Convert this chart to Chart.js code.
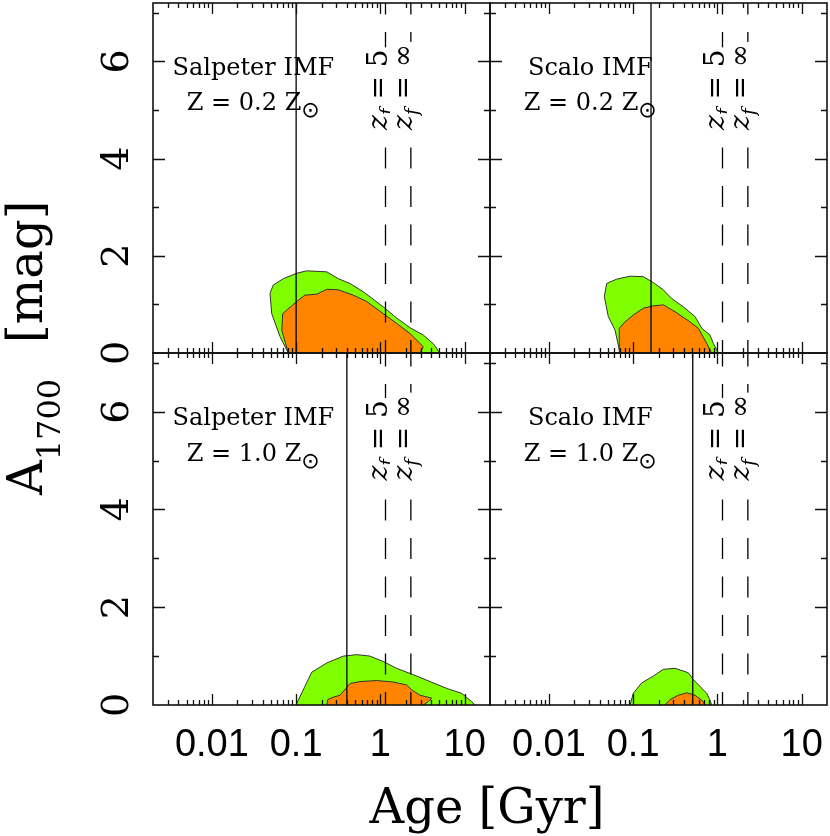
<!DOCTYPE html>
<html>
<head>
<meta charset="utf-8">
<script src="https://cdn.jsdelivr.net/npm/chart.js@4.4.1/dist/chart.umd.min.js"></script>
<style>
  body { margin: 0; background: #fff; }
  #wrap { position: relative; width: 830px; height: 836px; }
  #wrap canvas { position: absolute; left: 0; top: 0; }
</style>
</head>
<body>
<div id="wrap">
  <canvas id="p1" width="830" height="836"></canvas>
  <canvas id="p2" width="830" height="836"></canvas>
  <canvas id="p3" width="830" height="836"></canvas>
  <canvas id="p4" width="830" height="836"></canvas>
</div>
<script>
// panel texts
const imfNames = ['Salpeter IMF', 'Scalo IMF', 'Salpeter IMF', 'Scalo IMF'];
const metallicity = ['0.2', '0.2', '1.0', '1.0'];

// age of the universe marker (solid) and formation redshift markers (dashed), Gyr
const ageNow = [0.10, 0.163, 0.40, 0.51];
const zfAges = [1.15, 2.3];
const zfLabels = ['5', '\u221e'];

// tick labels
const xTickLabels = [0.01, 0.1, 1, 10];
const yTickLabels = [0, 2, 4, 6];

// contours: age [Gyr] and A_1700 [mag]
const green1Age = [0.0807, 0.0643, 0.0513, 0.049, 0.0536, 0.0705, 0.1016, 0.133, 0.231, 0.316, 0.435, 0.627, 1.08, 1.56, 2.25, 3.23, 4.25, 5.1];
const green1A   = [0, 0.34, 0.81, 1.23, 1.40, 1.53, 1.64, 1.69, 1.67, 1.53, 1.43, 1.26, 0.95, 0.72, 0.52, 0.37, 0.19, 0];
const orange1Age = [0.0807, 0.0675, 0.0692, 0.1016, 0.127, 0.175, 0.231, 0.316, 0.476, 0.687, 1.08, 1.56, 2.25, 3.23, 2.95];
const orange1A   = [0, 0.47, 0.81, 1.06, 1.19, 1.21, 1.31, 1.30, 1.19, 1.06, 0.81, 0.61, 0.40, 0.13, 0];

const green2Age = [0.0698, 0.061, 0.0507, 0.0455, 0.0485, 0.0638, 0.0918, 0.132, 0.173, 0.228, 0.287, 0.394, 0.542, 0.652, 0.817, 0.893, 1.03];
const green2A   = [0, 0.47, 0.75, 1.16, 1.43, 1.52, 1.58, 1.57, 1.45, 1.30, 1.12, 0.95, 0.75, 0.51, 0.37, 0.20, 0];
const orange2Age = [0.0698, 0.0685, 0.080, 0.1005, 0.132, 0.173, 0.228, 0.314, 0.473, 0.593, 0.746, 0.855];
const orange2A   = [0, 0.51, 0.64, 0.78, 0.92, 0.97, 0.99, 0.85, 0.64, 0.51, 0.20, 0];

const green3Age = [0.0995, 0.127, 0.153, 0.231, 0.363, 0.524, 0.753, 1.08, 1.56, 2.46, 3.88, 6.12, 9.2, 12.1, 13.3];
const green3A   = [0, 0.38, 0.67, 0.86, 1.0, 1.03, 1.0, 0.89, 0.75, 0.62, 0.48, 0.34, 0.24, 0.07, 0];
const orange3Age = [0.231, 0.237, 0.276, 0.332, 0.436, 0.573, 0.904, 1.42, 2.05, 2.35, 2.95, 4.06, 3.71, 3.23];
const orange3A   = [0, 0.11, 0.16, 0.20, 0.44, 0.48, 0.50, 0.47, 0.41, 0.31, 0.20, 0.14, 0.07, 0];

const green4Age = [0.0918, 0.1005, 0.126, 0.173, 0.228, 0.314, 0.452, 0.518, 0.622, 0.746, 0.817, 0.855];
const green4A   = [0, 0.24, 0.45, 0.59, 0.73, 0.75, 0.66, 0.52, 0.38, 0.24, 0.10, 0];
const orange4Age = [0.239, 0.274, 0.344, 0.433, 0.542, 0.652, 0.713];
const orange4A   = [0, 0.11, 0.20, 0.25, 0.20, 0.10, 0];

const greens = [[green1Age, green1A], [green2Age, green2A], [green3Age, green3A], [green4Age, green4A]];
const oranges = [[orange1Age, orange1A], [orange2Age, orange2A], [orange3Age, orange3A], [orange4Age, orange4A]];

// layout
const W = 830, H = 836;
const xMin = 0.002, xMax = 20, yMax = 7.2;
const panelBoxes = [[153, 3, 490, 353], [490, 3, 827, 353], [153, 353, 490, 705], [490, 353, 827, 705]];
const SERIF = '"DejaVu Serif", serif';

function pts(ages, vals) {
  return ages.map((t, i) => ({ x: t, y: vals[i] }));
}

function vline(age, dash) {
  return {
    data: [{ x: age, y: 0 }, { x: age, y: yMax }],
    showLine: true, pointRadius: 0, borderColor: '#000', borderWidth: 1.3,
    borderDash: dash, borderDashOffset: 8, fill: false, order: 0
  };
}

function contour(pair, color, order) {
  return {
    data: pts(pair[0], pair[1]),
    showLine: true, pointRadius: 0, tension: 0,
    borderColor: '#333', borderWidth: 1, backgroundColor: color,
    fill: 'shape', order: order
  };
}

const framePlugin = {
  id: 'frame',
  afterDatasetsDraw(chart, args, opts) {
    const i = opts.panel;
    const { ctx, chartArea: a } = chart;
    const x = chart.scales.x, y = chart.scales.y;
    ctx.save();

    // z_f labels over the dashed lines
    zfAges.forEach((age, k) => {
      const px = x.getPixelForValue(age) + 1;
      const py = y.getPixelForValue(4.59);
      ctx.save();
      ctx.translate(px, py);
      ctx.rotate(-Math.PI / 2);
      ctx.font = 'italic 28px ' + SERIF;
      const wz = ctx.measureText('z').width;
      ctx.font = 'italic 18px ' + SERIF;
      const wf = ctx.measureText('f').width;
      ctx.font = '28px ' + SERIF;
      const rest = ' = ' + zfLabels[k];
      const wr = ctx.measureText(rest).width;
      ctx.fillStyle = '#fff';
      ctx.fillRect(-2, -22, wz + wf + wr + 4, 32);
      ctx.fillStyle = '#000';
      ctx.font = 'italic 28px ' + SERIF;
      ctx.fillText('z', 0, 0);
      ctx.font = 'italic 18px ' + SERIF;
      ctx.fillText('f', wz, 6);
      ctx.font = '28px ' + SERIF;
      ctx.fillText(rest, wz + wf, 0);
      ctx.restore();
    });

    // annotation text
    ctx.fillStyle = '#000';
    ctx.textBaseline = 'alphabetic';
    const cx = x.getPixelForValue(0.031);
    ctx.font = '24px ' + SERIF;
    ctx.textAlign = 'center';
    ctx.fillText(imfNames[i], cx, y.getPixelForValue(5.72));
    const main = 'Z = ' + metallicity[i] + ' Z';
    const w1 = ctx.measureText(main).width;
    ctx.font = '22px "DejaVu Sans", sans-serif';
    const w2 = ctx.measureText('\u2299').width;
    const sx = cx - (w1 + w2) / 2;
    const by = y.getPixelForValue(5.0);
    ctx.textAlign = 'left';
    ctx.font = '24px ' + SERIF;
    ctx.fillText(main, sx, by);
    ctx.font = '22px "DejaVu Sans", sans-serif';
    ctx.fillText('\u2299', sx + w1, by + 7);

    // inward ticks
    ctx.strokeStyle = '#111';
    ctx.lineWidth = 1.3;
    ctx.beginPath();
    for (let e = -3; e <= 1; e++) {
      for (let m = 1; m <= 9; m++) {
        const v = m * Math.pow(10, e);
        if (v <= xMin || v >= xMax) continue;
        const px = Math.round(x.getPixelForValue(v)) + 0.5;
        const len = m === 1 ? 11 : 5;
        ctx.moveTo(px, a.bottom); ctx.lineTo(px, a.bottom - len);
        ctx.moveTo(px, a.top); ctx.lineTo(px, a.top + len);
      }
    }
    for (let v = 1; v <= 7; v++) {
      const py = Math.round(y.getPixelForValue(v)) + 0.5;
      const len = v % 2 === 0 ? 12 : 6;
      ctx.moveTo(a.left, py); ctx.lineTo(a.left + len, py);
      ctx.moveTo(a.right, py); ctx.lineTo(a.right - len, py);
    }
    ctx.stroke();
    ctx.lineWidth = 1.6;
    ctx.strokeRect(a.left, a.top, a.right - a.left, a.bottom - a.top);

    // tick labels
    ctx.fillStyle = '#000';
    if (i >= 2) {
      ctx.font = '38px "Liberation Sans", Arial, sans-serif';
      ctx.textAlign = 'center';
      xTickLabels.forEach(v => ctx.fillText(String(v), x.getPixelForValue(v), a.bottom + 51));
    }
    if (i % 2 === 0) {
      ctx.font = '38px ' + SERIF;
      ctx.textAlign = 'center';
      yTickLabels.forEach(v => {
        ctx.save();
        ctx.translate(128, y.getPixelForValue(v));
        ctx.rotate(-Math.PI / 2);
        ctx.fillText(String(v), 0, 0);
        ctx.restore();
      });
    }

    // axis titles, drawn once
    if (i === 2) {
      ctx.font = '48px ' + SERIF;
      ctx.textAlign = 'center';
      ctx.fillText('Age [Gyr]', 487, 823);

      ctx.save();
      ctx.translate(42, 495);
      ctx.rotate(-Math.PI / 2);
      ctx.textAlign = 'left';
      ctx.font = '48px ' + SERIF;
      ctx.fillText('A', 0, 0);
      const wa = ctx.measureText('A').width;
      ctx.font = '32px ' + SERIF;
      ctx.fillText('1700', wa, 18);
      const wn = ctx.measureText('1700').width;
      ctx.font = '48px ' + SERIF;
      ctx.fillText('[mag]', wa + wn + 36, 0);
      ctx.restore();
    }
    ctx.restore();
  }
};

panelBoxes.forEach((b, i) => {
  new Chart(document.getElementById('p' + (i + 1)), {
    type: 'scatter',
    data: {
      datasets: [
        vline(ageNow[i], []),
        vline(zfAges[0], [21, 17.5]),
        vline(zfAges[1], [21, 17.5]),
        contour(oranges[i], '#ff8400', 1),
        contour(greens[i], '#80ff00', 2)
      ]
    },
    options: {
      responsive: false,
      animation: false,
      events: [],
      layout: { padding: { left: b[0], top: b[1], right: W - b[2], bottom: H - b[3] } },
      scales: {
        x: { type: 'logarithmic', min: xMin, max: xMax, display: false },
        y: { type: 'linear', min: 0, max: yMax, display: false }
      },
      plugins: {
        legend: { display: false },
        tooltip: { enabled: false },
        frame: { panel: i }
      }
    },
    plugins: [framePlugin]
  });
});
</script>
</body>
</html>
